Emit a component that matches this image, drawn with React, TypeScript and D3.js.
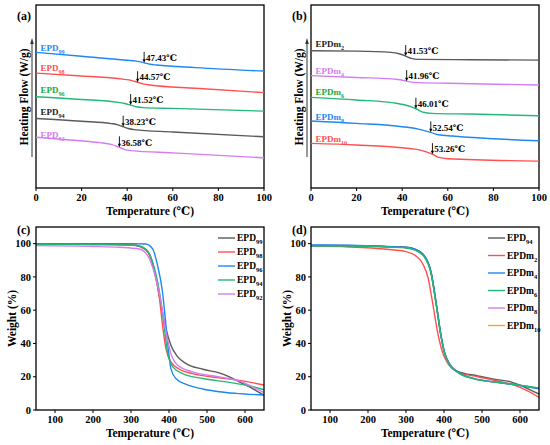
import React from 'react';
import * as d3 from 'd3';

type P = [number, number];

// ---------- DSC (a) ----------
const dscA_EPD99: P[] = [[0,7.41],[20,7.20],[40,6.98],[44,6.93],[47.43,6.84],[50,6.76],[53,6.72],[70,6.58],[100,6.39]];
const dscA_EPD98: P[] = [[0,6.28],[20,6.12],[38,5.95],[42,5.87],[44.57,5.78],[47,5.69],[50,5.63],[70,5.45],[100,5.21]];
const dscA_EPD96: P[] = [[0,4.99],[20,4.84],[36,4.68],[39,4.62],[41.52,4.53],[44,4.44],[47,4.39],[60,4.35],[100,4.20]];
const dscA_EPD94: P[] = [[0,3.80],[20,3.65],[33,3.52],[36,3.45],[38.23,3.35],[40.5,3.25],[43,3.19],[60,3.06],[100,2.80]];
const dscA_EPD92: P[] = [[0,2.77],[15,2.62],[28,2.48],[33,2.38],[36.58,2.22],[39,2.10],[42,2.04],[60,1.92],[100,1.65]];
const tgA = [47.43, 44.57, 41.52, 38.23, 36.58];
const namesA: [string, string][] = [['EPD','99'],['EPD','98'],['EPD','96'],['EPD','94'],['EPD','92']];
const labelYA = [7.63, 6.54, 5.35, 4.17, 2.89];

// ---------- DSC (b) ----------
const dscB_m2: P[] = [[0,7.50],[20,7.48],[35,7.41],[39,7.32],[41.53,7.21],[44,7.08],[47,7.03],[70,7.01],[100,6.99]];
const dscB_m4: P[] = [[0,6.14],[20,6.04],[38,5.93],[41.96,5.84],[45,5.77],[60,5.72],[100,5.63]];
const dscB_m6: P[] = [[0,4.95],[20,4.81],[38,4.62],[43,4.48],[46.01,4.33],[49,4.15],[53,4.08],[70,4.04],[100,3.95]];
const dscB_m8: P[] = [[0,3.66],[20,3.53],[40,3.35],[47,3.22],[52.54,3.04],[56,2.91],[62,2.84],[100,2.58]];
const dscB_m10: P[] = [[0,2.44],[20,2.35],[40,2.20],[48,2.07],[53.26,1.85],[56,1.67],[60,1.60],[100,1.47]];
const tgB = [41.53, 41.96, 46.01, 52.54, 53.26];
const namesB: [string, string][] = [['EPDm','2'],['EPDm','4'],['EPDm','6'],['EPDm','8'],['EPDm','10']];
const labelYB = [7.85, 6.41, 5.22, 3.89, 2.66];

// ---------- TGA (c) ----------
const tgaC_EPD99: P[] = [[50,99.5],[150,100],[250,99.6],[300,99.2],[322,98.4],[339,96.4],[353,90.8],[366,78.9],[379,62.9],[392,48.9],[405,38.9],[423,31.9],[445,27.9],[489,24.5],[532,22.3],[559,19.9],[585,16.9],[620,12.9],[650,8.8]];
const tgaC_EPD98: P[] = [[50,100],[150,100],[250,99.8],[310,99.2],[330,97.5],[348,93.8],[361,84.8],[375,66.9],[383,50.9],[392,36.9],[405,28.9],[427,24.5],[462,21.9],[532,19.3],[594,17.5],[650,15.0]];
const tgaC_EPD96: P[] = [[50,99.8],[150,100],[300,100],[339,99.8],[357,96.8],[370,86.8],[383,70.8],[392,50.9],[399,34.9],[405,24.9],[418,18.9],[445,15.4],[489,12.6],[532,11.0],[576,10.0],[650,9.0]];
const tgaC_EPD94: P[] = [[50,99.3],[150,99.5],[300,99.2],[313,99.0],[339,96.8],[357,88.8],[375,70.8],[388,48.9],[396,34.9],[410,25.9],[436,21.9],[489,18.9],[550,16.9],[603,14.9],[650,12.2]];
const tgaC_EPD92: P[] = [[50,98.8],[200,98.3],[269,97.8],[322,96.8],[344,92.8],[361,82.8],[379,64.9],[392,46.9],[405,33.9],[423,26.9],[462,22.9],[532,19.9],[585,17.5],[620,13.9],[650,10.5]];

// ---------- TGA (d) ----------
const tgaD_EPD94: P[] = [[50,98.8],[150,98.8],[250,98.2],[300,97.8],[322,96.8],[348,92.8],[366,82.8],[379,64.9],[392,44.9],[401,34.9],[414,27.9],[436,23.2],[489,20.5],[532,18.5],[576,16.9],[620,12.9],[650,9.6]];
const tgaD_m2: P[] = [[50,98.5],[150,98.0],[250,96.6],[300,95.2],[325,92.8],[345,87.5],[358,79.5],[370,64.5],[383,47.0],[395,35.5],[410,28.0],[436,22.8],[489,20.0],[532,17.9],[585,14.9],[620,11.5],[650,7.6]];
const tgaD_m4: P[] = [[50,99.2],[150,99.0],[250,98.3],[300,97.8],[322,96.8],[348,92.8],[366,82.8],[379,64.9],[392,44.9],[401,34.9],[414,27.9],[436,22.9],[480,18.9],[532,16.9],[585,15.3],[650,12.7]];
const tgaD_m6: P[] = [[50,98.6],[150,98.6],[250,98.0],[300,97.4],[322,96.3],[348,92.0],[366,82.0],[379,64.0],[392,44.5],[401,34.5],[414,27.5],[436,22.6],[480,18.7],[532,16.8],[585,15.3],[650,13.3]];
const tgaD_m8: P[] = [[50,99.1],[150,98.9],[250,98.2],[300,97.7],[322,96.7],[348,92.6],[366,82.6],[379,64.6],[392,44.8],[401,34.8],[414,27.8],[436,22.8],[480,18.8],[532,16.9],[585,15.3],[650,12.9]];
const tgaD_m10: P[] = [[50,98.7],[150,98.7],[250,98.1],[300,97.5],[322,96.4],[348,92.2],[366,82.2],[379,64.2],[392,44.6],[401,34.6],[414,27.6],[436,22.7],[480,18.7],[532,16.8],[585,15.3],[650,13.1]];

const legendC: [string, string][] = [['EPD','99'],['EPD','98'],['EPD','96'],['EPD','94'],['EPD','92']];
const legendD: [string, string][] = [['EPD','94'],['EPDm','2'],['EPDm','4'],['EPDm','6'],['EPDm','8'],['EPDm','10']];

const dscTicks = [0, 20, 40, 60, 80, 100];
const tgaXTicks = [100, 200, 300, 400, 500, 600];
const tgaYTicks = [0, 20, 40, 60, 80, 100];

const C_GRAY = '#5a5a5a';
const C_RED = '#ff5050';
const C_BLUE = '#1e88f0';
const C_GREEN = '#22b878';
const C_PURPLE = '#d57cf2';
const C_ORANGE = '#f2a530';
const L_GREEN = '#1aa83a';

const FONT = '"Liberation Serif", "Times New Roman", "DejaVu Serif", serif';

function interp(pts: P[], x: number): number {
  for (let i = 0; i < pts.length - 1; i++) {
    if (x >= pts[i][0] && x <= pts[i + 1][0]) {
      const t = (x - pts[i][0]) / (pts[i + 1][0] - pts[i][0]);
      return pts[i][1] + t * (pts[i + 1][1] - pts[i][1]);
    }
  }
  return pts[pts.length - 1][1];
}

function Sub({ x, y, name, fill, size = 10, anchor = 'start' }: any) {
  return (
    <text x={x} y={y} fill={fill} fontSize={size} fontWeight="bold" fontFamily={FONT} textAnchor={anchor}>
      <tspan>{name[0]}</tspan>
      <tspan dy={3} fontSize={size * 0.68}>{name[1]}</tspan>
    </text>
  );
}

function Frame({ x0, x1, y0, y1 }: any) {
  return <rect x={x0} y={y0} width={x1 - x0} height={y1 - y0} fill="none" stroke="#000" strokeWidth={1.3} />;
}

function DscPanel({ left, label, series, colors, labelColors, names, labelY, tgs }: any) {
  const x0 = left, x1 = left + 228, y0 = 5, y1 = 188;
  const xs = d3.scaleLinear().domain([0, 100]).range([x0, x1]);
  const ys = d3.scaleLinear().domain([0, 10]).range([y1, y0]);
  const line = d3.line<P>().x(d => xs(d[0])).y(d => ys(d[1])).curve(d3.curveMonotoneX);
  const ax = left - 4;
  return (
    <g>
      <Frame x0={x0} x1={x1} y0={y0} y1={y1} />
      {dscTicks.map(t => (
        <g key={t}>
          <line x1={xs(t)} x2={xs(t)} y1={y1} y2={y1 + 3} stroke="#000" />
          <text x={xs(t)} y={y1 + 13} textAnchor="middle" fontSize={10.5} fontWeight="bold" fontFamily={FONT}>{t}</text>
        </g>
      ))}
      <text x={(x0 + x1) / 2} y={y1 + 27} textAnchor="middle" fontSize={11.5} fontWeight="bold" fontFamily={FONT}>Temperature (℃)</text>
      <text x={left - 19} y={16} textAnchor="start" fontSize={12} fontWeight="bold" fontFamily={FONT} dy="0.35em" >{label}</text>
      <text transform={`translate(${left - 12},97) rotate(-90)`} textAnchor="middle" dy="0.35em" fontSize={11.5} fontWeight="bold" fontFamily={FONT}>Heating Flow (W/g)</text>
      <line x1={ax} x2={ax} y1={157} y2={42} stroke="#333" strokeWidth={1} />
      <path d={`M${ax - 1.8},${44} L${ax + 1.8},${44} L${ax},${38} Z`} fill="#333" />
      {series.map((s: P[], i: number) => (
        <path key={i} d={line(s) || ''} fill="none" stroke={colors[i]} strokeWidth={1.4} />
      ))}
      {names.map((n: any, i: number) => (
        <Sub key={i} x={xs(2)} y={ys(labelY[i]) + 3} name={n} fill={labelColors[i]} size={9} />
      ))}
      {tgs.map((tg: number, i: number) => {
        const tx = xs(tg);
        const ty = ys(interp(series[i], tg));
        return (
          <g key={i}>
            <line x1={tx} x2={tx} y1={ty - 11} y2={ty - 3} stroke="#000" strokeWidth={0.9} />
            <path d={`M${tx - 1.6},${ty - 3.5} L${tx + 1.6},${ty - 3.5} L${tx},${ty} Z`} fill="#000" />
            <text x={tx + 1.8} y={ty - 5} dy="0.35em" fontSize={9} fontWeight="bold" fontFamily={FONT}>{tg.toFixed(2)}℃</text>
          </g>
        );
      })}
    </g>
  );
}

function TgaPanel({ left, label, series, colors, legend, legendColors, legX, legY0, legDy }: any) {
  const x0 = left, x1 = left + 228, y0 = 227, y1 = 410;
  const xs = d3.scaleLinear().domain([50, 650]).range([x0, x1]);
  const ys = d3.scaleLinear().domain([0, 110]).range([y1, y0]);
  const line = d3.line<P>().x(d => xs(d[0])).y(d => ys(d[1])).curve(d3.curveMonotoneX);
  return (
    <g>
      {series.map((s: P[], i: number) => (
        <path key={i} d={line(s) || ''} fill="none" stroke={colors[i]} strokeWidth={1.4} />
      ))}
      <Frame x0={x0} x1={x1} y0={y0} y1={y1} />
      {tgaXTicks.map(t => (
        <g key={t}>
          <line x1={xs(t)} x2={xs(t)} y1={y1} y2={y1 + 3} stroke="#000" />
          <text x={xs(t)} y={y1 + 13} textAnchor="middle" fontSize={10.5} fontWeight="bold" fontFamily={FONT}>{t}</text>
        </g>
      ))}
      {tgaYTicks.map(t => (
        <g key={t}>
          <line x1={x0} x2={x0 - 3} y1={ys(t)} y2={ys(t)} stroke="#000" />
          <text x={x0 - 5} y={ys(t)} dy="0.35em" textAnchor="end" fontSize={10.5} fontWeight="bold" fontFamily={FONT}>{t}</text>
        </g>
      ))}
      <text x={(x0 + x1) / 2} y={y1 + 27} textAnchor="middle" fontSize={11.5} fontWeight="bold" fontFamily={FONT}>Temperature (℃)</text>
      <text transform={`translate(${left - 24},${(y0 + y1) / 2}) rotate(-90)`} textAnchor="middle" dy="0.35em" fontSize={11.5} fontWeight="bold" fontFamily={FONT}>Weight (%)</text>
      <text x={left - 19} y={230} dy="0.35em" fontSize={12} fontWeight="bold" fontFamily={FONT}>{label}</text>
      {legend.map((n: any, i: number) => {
        const yy = legY0 + i * legDy;
        return (
          <g key={i}>
            <line x1={legX} x2={legX + 17} y1={yy} y2={yy} stroke={legendColors[i]} strokeWidth={1.4} />
            <Sub x={legX + 19} y={yy + 3} name={n} fill="#000" size={9.5} />
          </g>
        );
      })}
    </g>
  );
}

export default function App() {
  return (
    <svg width={550} height={445} style={{ position: 'absolute', left: 0, top: 0, background: '#fff' }}>
      <rect x={0} y={0} width={550} height={445} fill="#fff" />
      <DscPanel
        left={36}
        label="(a)"
        series={[dscA_EPD99, dscA_EPD98, dscA_EPD96, dscA_EPD94, dscA_EPD92]}
        colors={[C_BLUE, C_RED, C_GREEN, C_GRAY, C_PURPLE]}
        labelColors={[C_BLUE, C_RED, L_GREEN, '#222', C_PURPLE]}
        names={namesA}
        labelY={labelYA}
        tgs={tgA}
      />
      <DscPanel
        left={311}
        label="(b)"
        series={[dscB_m2, dscB_m4, dscB_m6, dscB_m8, dscB_m10]}
        colors={[C_GRAY, C_PURPLE, C_GREEN, C_BLUE, C_RED]}
        labelColors={['#222', C_PURPLE, L_GREEN, C_BLUE, C_RED]}
        names={namesB}
        labelY={labelYB}
        tgs={tgB}
      />
      <TgaPanel
        left={36}
        label="(c)"
        series={[tgaC_EPD99, tgaC_EPD98, tgaC_EPD96, tgaC_EPD94, tgaC_EPD92]}
        colors={[C_GRAY, C_RED, C_BLUE, C_GREEN, C_PURPLE]}
        legend={legendC}
        legendColors={[C_GRAY, C_RED, C_BLUE, C_GREEN, C_PURPLE]}
        legX={218}
        legY0={238}
        legDy={14}
      />
      <TgaPanel
        left={311}
        label="(d)"
        series={[tgaD_m8, tgaD_m10, tgaD_EPD94, tgaD_m2, tgaD_m4, tgaD_m6]}
        colors={[C_PURPLE, C_ORANGE, C_GRAY, C_RED, C_BLUE, C_GREEN]}
        legend={legendD}
        legendColors={[C_GRAY, C_RED, C_BLUE, C_GREEN, C_PURPLE, C_ORANGE]}
        legX={488}
        legY0={238}
        legDy={17.5}
      />
    </svg>
  );
}
